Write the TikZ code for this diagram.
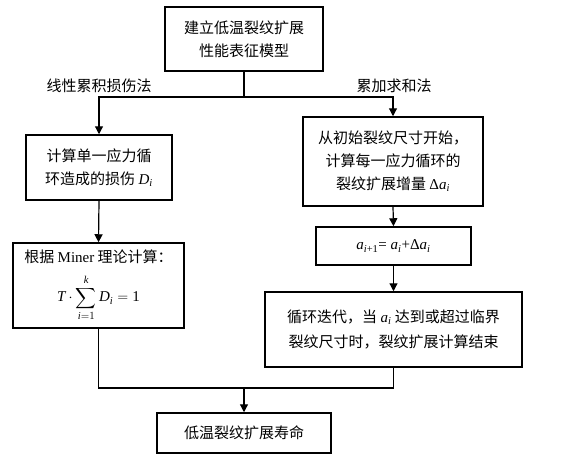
\documentclass[tikz,border=0pt]{standalone}
\usepackage{amsmath}
\usepackage{fontspec}
\setmainfont{Liberation Serif}
\newfontfamily\cjk{Noto Sans CJK SC}
\usetikzlibrary{arrows.meta}
\newcommand{\iv}[1]{\textit{#1}}
\tikzset{
  box/.style={draw, line width=1.5pt, align=center, inner sep=2pt,
    font=\cjk\fontsize{15}{23}\selectfont},
  lbl/.style={font=\cjk\fontsize{15}{23}\selectfont, inner sep=0pt},
  conn/.style={line width=1.2pt},
  arr/.style={line width=1.2pt, -{Triangle[length=8pt,width=8pt]}}
}
\begin{document}
\begin{tikzpicture}[x=1pt,y=-1pt]
\useasboundingbox (0,0) rectangle (575,455);
\node[box, minimum width=146pt, minimum height=65pt] (l1) at (99,167.5) {计算单一应力循\\环造成的损伤 {\rmfamily$\iv{D}_{\iv{i}}$}};
\node[box, minimum width=158pt, minimum height=64pt] (top) at (244,39) {建立低温裂纹扩展\\性能表征模型};
\node[box, minimum width=171pt, minimum height=85pt] (l2) at (98.5,285.5) {根据 {\rmfamily Miner} 理论计算：\\[10pt] {\rmfamily$\iv{T}\cdot\displaystyle\sum_{\iv{i}=1}^{\iv{k}} \iv{D}_{\iv{i}} =\text{1}$}};
\node[box, minimum width=180pt, minimum height=89pt] (r1) at (393,161.5) {从初始裂纹尺寸开始，\\计算每一应力循环的\\裂纹扩展增量 {\rmfamily$\text{Δ}\iv{a}_{\iv{i}}$}};
\node[box, minimum width=155pt, minimum height=38pt] (r2) at (393.5,246) {\rmfamily$\iv{a}_{\iv{i}\text{+1}}$= $\iv{a}_{\iv{i}}$+Δ$\iv{a}_{\iv{i}}$};
\node[box, minimum width=257pt, minimum height=75pt, font=\cjk\fontsize{15}{25}\selectfont] (r3) at (393.5,329.5) {循环迭代，当 {\rmfamily$\iv{a}_{\iv{i}}$} 达到或超过临界\\裂纹尺寸时，裂纹扩展计算结束};
\node[box, minimum width=174pt, minimum height=40pt] (bot) at (244,433) {低温裂纹扩展寿命};
\node[lbl] (la) at (99,86) {线性累积损伤法};
\node[lbl] (lb) at (394,86) {累加求和法};
\coordinate (j) at (244,97);
\coordinate (m) at (244,388);
\draw[conn] (top.south) -- (j);
\draw[arr] (j) -| (l1.north);
\draw[arr] (j) -| (r1.north);
\draw[arr] (l1.south) -- (l2.north);
\draw[arr] (r1.south) -- (r2.north);
\draw[arr] (r2.south) -- (r3.north);
\draw[conn] (l2.south) |- (m);
\draw[conn] (r3.south) |- (m);
\draw[arr] (m) -- (bot.north);
\end{tikzpicture}
\end{document}
